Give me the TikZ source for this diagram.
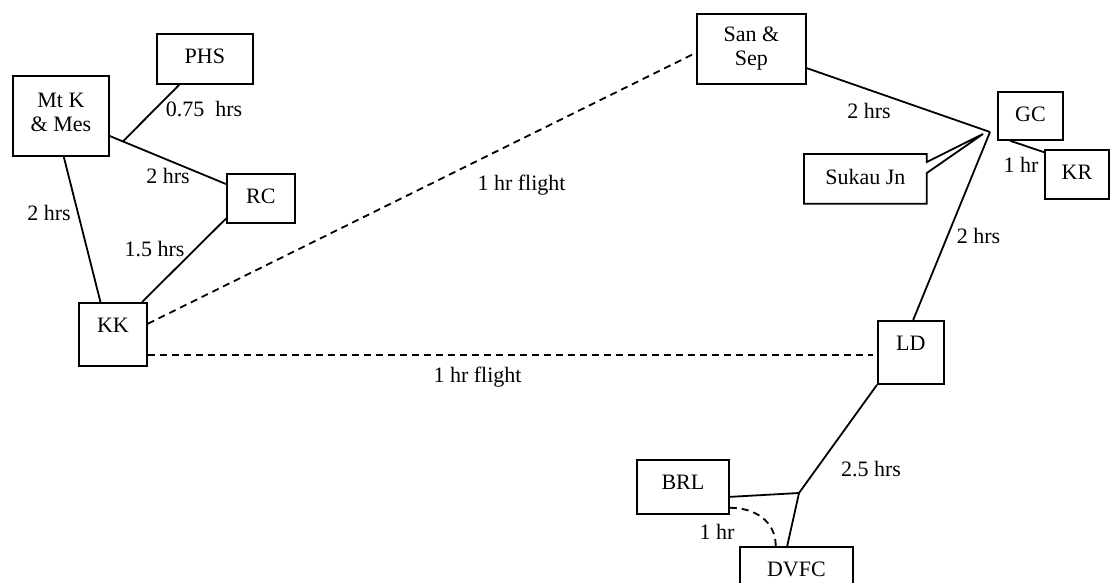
\documentclass[tikz,border=0pt]{standalone}
\usepackage{fontspec}
\setmainfont{Liberation Serif}
\usepackage{tikz}
\usetikzlibrary{calc}

\tikzset{
	box/.style={draw, anchor=north west, inner xsep=2pt, inner ysep=0pt, text height=30pt, align=center},
	flight/.style={dash pattern=on 7pt off 5pt},
	hrs/.style={anchor=base}
}

\begin{document}
\begin{tikzpicture}[x=1pt, y=-1pt, line width=1.8pt, font=\fontsize{22pt}{24pt}\selectfont]
	\path[use as bounding box] (0,0) rectangle (1111,583);

	\node [box, minimum width=96pt, text height=56pt, text depth=24pt] (mtk) at (12,75) {Mt K\\\& Mes};
	\node [box, minimum width=96pt, text depth=20pt] (phs) at (156,33) {PHS};
	\node [box, minimum width=68pt, text depth=19pt] (rc) at (226,173) {RC};
	\node [box, minimum width=68pt, text depth=33pt] (kk) at (78,302) {KK};

	\node [box, minimum width=109pt, text height=52pt, text depth=18pt] (san) at (696,13) {San \&\\Sep};
	\node [box, minimum width=65pt, text depth=18pt] (gc) at (997,91) {GC};
	\node [box, minimum width=64pt, text depth=19pt] (kr) at (1044,149) {KR};
	\node [box, draw=none, minimum width=121pt, text depth=18pt] (sukau) at (804,154) {Sukau Jn};
	\node [box, minimum width=66pt, text depth=33pt] (ld) at (877,320) {LD};
	\node [box, minimum width=92pt, text depth=24pt] (brl) at (636,459) {BRL};
	\node [box, minimum width=113pt, text depth=35pt] (dvfc) at (739,546) {DVFC};

	\coordinate (phsjoin) at ($(mtk)!0.31!(rc)$);
	\coordinate (gcjoin) at (990,132);
	\coordinate (sktip) at (983,134);
	\coordinate (dvjoin) at (799,493);

	% west side
	\draw (mtk) -- (rc);
	\draw (phs) -- (phsjoin);
	\draw (mtk.274) -- (kk.111);
	\draw (rc.210) -- (kk.48);
	\node [hrs] (l075) at (204,117) {0.75\ \ hrs};
	\node [hrs] (lmr) at (168,183) {2 hrs};
	\node [hrs] (lmk) at (49,220) {2 hrs};
	\node [hrs] (lrk) at (154.5,256) {1.5 hrs};

	% flights
	\draw [flight] (kk.17) -- (san.184);
	\draw [flight, shorten >=4pt] (kk.-31) -- (kk.-31 -| ld.west);
	\node [hrs] (lfly1) at (521.5,190) {1 hr flight};
	\node [hrs] (lfly2) at (477.5,382) {1 hr flight};

	% east side
	\draw (san) -- (gcjoin);
	\draw (gc.231) -- (kr.146);
	\draw (sukau.north west) -- (sukau.north east) -- ++(0,8) -- (sktip) -- ($(sukau.north east)+(0,19)$) -- (sukau.south east) -- (sukau.south west) -- cycle;
	\draw (gcjoin) -- (ld.86);
	\node [hrs] (lsg) at (869,119) {2 hrs};
	\node [hrs] (lgk) at (1021,172) {1 hr};
	\node [hrs] (lgl) at (978.5,243) {2 hrs};

	% south
	\draw (ld.south west) -- (dvjoin);
	\draw (brl.-12) -- (dvjoin);
	\draw (dvjoin) -- ($(dvfc.north west)!0.42!(dvfc.north east)$);
	\draw [flight] (brl.-24) .. controls +(25,0) and +(0,-25) .. ($(dvfc.north west)!0.32!(dvfc.north east)$);
	\node [hrs] (lld) at (871,476) {2.5 hrs};
	\node [hrs] (lbd) at (717,539) {1 hr};
\end{tikzpicture}
\end{document}
